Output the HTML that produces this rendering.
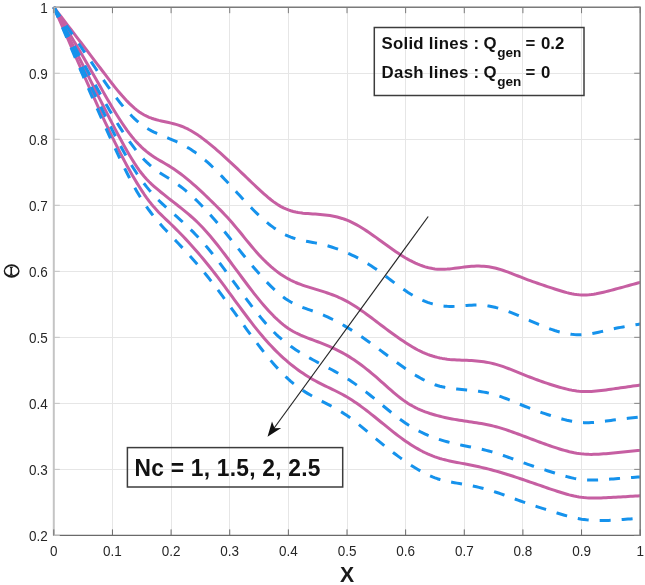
<!DOCTYPE html>
<html><head><meta charset="utf-8"><style>
html,body{margin:0;padding:0;background:#fff;}
body{width:645px;height:585px;overflow:hidden;}
svg{display:block;}
text{filter:grayscale(1);}
</style></head><body>
<svg width="645" height="585" viewBox="0 0 645 585">
<rect width="645" height="585" fill="#fff"/>
<g stroke="#e6e6e6" stroke-width="1" shape-rendering="crispEdges"><line x1="112.44" y1="7.20" x2="112.44" y2="535.40"/><line x1="171.08" y1="7.20" x2="171.08" y2="535.40"/><line x1="229.72" y1="7.20" x2="229.72" y2="535.40"/><line x1="288.36" y1="7.20" x2="288.36" y2="535.40"/><line x1="347.00" y1="7.20" x2="347.00" y2="535.40"/><line x1="405.64" y1="7.20" x2="405.64" y2="535.40"/><line x1="464.28" y1="7.20" x2="464.28" y2="535.40"/><line x1="522.92" y1="7.20" x2="522.92" y2="535.40"/><line x1="581.56" y1="7.20" x2="581.56" y2="535.40"/><line x1="53.80" y1="469.37" x2="640.20" y2="469.37"/><line x1="53.80" y1="403.35" x2="640.20" y2="403.35"/><line x1="53.80" y1="337.32" x2="640.20" y2="337.32"/><line x1="53.80" y1="271.30" x2="640.20" y2="271.30"/><line x1="53.80" y1="205.27" x2="640.20" y2="205.27"/><line x1="53.80" y1="139.25" x2="640.20" y2="139.25"/><line x1="53.80" y1="73.23" x2="640.20" y2="73.23"/></g>
<g fill="none" stroke-linejoin="round">
<path d="M53.80,7.20 L56.24,10.38 L58.69,13.56 L61.13,16.74 L63.57,19.92 L66.02,23.10 L68.46,26.29 L70.90,29.48 L73.35,32.67 L75.79,35.87 L78.23,39.07 L80.68,42.27 L83.12,45.48 L85.56,48.70 L88.01,51.92 L90.45,55.13 L92.89,58.36 L95.34,61.58 L97.78,64.80 L100.22,68.02 L102.67,71.24 L105.11,74.45 L107.55,77.66 L110.00,80.84 L112.44,83.98 L114.88,87.06 L117.33,90.08 L119.77,93.00 L122.21,95.84 L124.66,98.56 L127.10,101.16 L129.54,103.63 L131.99,105.96 L134.43,108.12 L136.87,110.12 L139.32,111.94 L141.76,113.56 L144.20,114.98 L146.65,116.21 L149.09,117.28 L151.53,118.21 L153.98,119.02 L156.42,119.73 L158.86,120.36 L161.31,120.93 L163.75,121.47 L166.19,122.00 L168.64,122.53 L171.08,123.10 L173.52,123.71 L175.97,124.39 L178.41,125.14 L180.85,125.99 L183.30,126.94 L185.74,128.01 L188.18,129.21 L190.63,130.52 L193.07,131.95 L195.51,133.49 L197.96,135.11 L200.40,136.82 L202.84,138.60 L205.29,140.45 L207.73,142.37 L210.17,144.33 L212.62,146.35 L215.06,148.41 L217.50,150.52 L219.95,152.66 L222.39,154.83 L224.83,157.04 L227.28,159.28 L229.72,161.54 L232.16,163.82 L234.61,166.12 L237.05,168.44 L239.49,170.77 L241.94,173.11 L244.38,175.45 L246.82,177.79 L249.27,180.13 L251.71,182.46 L254.15,184.77 L256.60,187.07 L259.04,189.35 L261.48,191.60 L263.93,193.81 L266.37,195.96 L268.81,198.03 L271.26,200.00 L273.70,201.86 L276.14,203.59 L278.59,205.17 L281.03,206.59 L283.47,207.86 L285.92,208.97 L288.36,209.93 L290.80,210.75 L293.25,211.44 L295.69,212.01 L298.13,212.48 L300.58,212.86 L303.02,213.17 L305.46,213.42 L307.91,213.62 L310.35,213.79 L312.79,213.95 L315.24,214.10 L317.68,214.26 L320.12,214.45 L322.57,214.67 L325.01,214.93 L327.45,215.24 L329.90,215.60 L332.34,216.02 L334.78,216.51 L337.23,217.07 L339.67,217.71 L342.11,218.44 L344.56,219.26 L347.00,220.19 L349.44,221.22 L351.89,222.36 L354.33,223.58 L356.77,224.90 L359.22,226.29 L361.66,227.75 L364.10,229.28 L366.55,230.87 L368.99,232.51 L371.43,234.19 L373.88,235.90 L376.32,237.65 L378.76,239.41 L381.21,241.19 L383.65,242.98 L386.09,244.76 L388.54,246.53 L390.98,248.28 L393.42,250.01 L395.87,251.70 L398.31,253.35 L400.75,254.95 L403.20,256.49 L405.64,257.97 L408.08,259.37 L410.53,260.70 L412.97,261.94 L415.41,263.10 L417.86,264.17 L420.30,265.15 L422.74,266.03 L425.19,266.82 L427.63,267.51 L430.07,268.09 L432.52,268.56 L434.96,268.92 L437.40,269.17 L439.85,269.30 L442.29,269.33 L444.73,269.26 L447.18,269.11 L449.62,268.90 L452.06,268.63 L454.51,268.33 L456.95,268.01 L459.39,267.69 L461.84,267.37 L464.28,267.07 L466.72,266.79 L469.17,266.55 L471.61,266.34 L474.05,266.20 L476.50,266.11 L478.94,266.09 L481.38,266.15 L483.83,266.29 L486.27,266.52 L488.71,266.83 L491.16,267.23 L493.60,267.71 L496.04,268.29 L498.49,268.95 L500.93,269.68 L503.37,270.47 L505.82,271.31 L508.26,272.20 L510.70,273.12 L513.15,274.07 L515.59,275.04 L518.03,276.01 L520.48,276.97 L522.92,277.93 L525.36,278.86 L527.81,279.78 L530.25,280.67 L532.69,281.55 L535.14,282.42 L537.58,283.27 L540.02,284.11 L542.47,284.93 L544.91,285.76 L547.35,286.57 L549.80,287.38 L552.24,288.18 L554.68,288.98 L557.13,289.77 L559.57,290.54 L562.01,291.28 L564.46,291.98 L566.90,292.63 L569.34,293.22 L571.79,293.74 L574.23,294.18 L576.67,294.54 L579.12,294.80 L581.56,294.95 L584.00,294.99 L586.45,294.92 L588.89,294.75 L591.33,294.50 L593.78,294.16 L596.22,293.76 L598.66,293.29 L601.11,292.77 L603.55,292.21 L605.99,291.61 L608.44,290.99 L610.88,290.35 L613.32,289.71 L615.77,289.06 L618.21,288.40 L620.65,287.74 L623.10,287.08 L625.54,286.41 L627.98,285.73 L630.43,285.06 L632.87,284.38 L635.31,283.70 L637.76,283.02 L640.20,282.34" stroke="#c65fa2" stroke-width="3"/>
<path d="M53.80,7.20 L56.24,11.31 L58.69,15.43 L61.13,19.55 L63.57,23.67 L66.02,27.79 L68.46,31.91 L70.90,36.04 L73.35,40.17 L75.79,44.30 L78.23,48.45 L80.68,52.60 L83.12,56.77 L85.56,60.96 L88.01,65.17 L90.45,69.40 L92.89,73.66 L95.34,77.95 L97.78,82.26 L100.22,86.57 L102.67,90.87 L105.11,95.14 L107.55,99.38 L110.00,103.57 L112.44,107.70 L114.88,111.74 L117.33,115.70 L119.77,119.55 L122.21,123.28 L124.66,126.87 L127.10,130.32 L129.54,133.61 L131.99,136.72 L134.43,139.65 L136.87,142.39 L139.32,144.94 L141.76,147.31 L144.20,149.52 L146.65,151.57 L149.09,153.48 L151.53,155.25 L153.98,156.89 L156.42,158.45 L158.86,159.93 L161.31,161.37 L163.75,162.78 L166.19,164.20 L168.64,165.66 L171.08,167.17 L173.52,168.76 L175.97,170.43 L178.41,172.17 L180.85,173.99 L183.30,175.88 L185.74,177.83 L188.18,179.84 L190.63,181.90 L193.07,184.02 L195.51,186.19 L197.96,188.40 L200.40,190.65 L202.84,192.94 L205.29,195.26 L207.73,197.60 L210.17,199.98 L212.62,202.37 L215.06,204.78 L217.50,207.20 L219.95,209.65 L222.39,212.14 L224.83,214.69 L227.28,217.30 L229.72,220.00 L232.16,222.79 L234.61,225.66 L237.05,228.59 L239.49,231.56 L241.94,234.56 L244.38,237.58 L246.82,240.59 L249.27,243.57 L251.71,246.51 L254.15,249.40 L256.60,252.21 L259.04,254.93 L261.48,257.54 L263.93,260.04 L266.37,262.44 L268.81,264.72 L271.26,266.89 L273.70,268.95 L276.14,270.90 L278.59,272.73 L281.03,274.46 L283.47,276.07 L285.92,277.56 L288.36,278.95 L290.80,280.23 L293.25,281.41 L295.69,282.50 L298.13,283.50 L300.58,284.44 L303.02,285.32 L305.46,286.14 L307.91,286.93 L310.35,287.69 L312.79,288.43 L315.24,289.16 L317.68,289.90 L320.12,290.64 L322.57,291.40 L325.01,292.19 L327.45,293.00 L329.90,293.86 L332.34,294.75 L334.78,295.70 L337.23,296.70 L339.67,297.76 L342.11,298.89 L344.56,300.10 L347.00,301.38 L349.44,302.75 L351.89,304.21 L354.33,305.73 L356.77,307.32 L359.22,308.96 L361.66,310.66 L364.10,312.40 L366.55,314.18 L368.99,315.99 L371.43,317.82 L373.88,319.66 L376.32,321.51 L378.76,323.37 L381.21,325.22 L383.65,327.06 L386.09,328.89 L388.54,330.71 L390.98,332.51 L393.42,334.29 L395.87,336.04 L398.31,337.77 L400.75,339.46 L403.20,341.11 L405.64,342.72 L408.08,344.29 L410.53,345.81 L412.97,347.27 L415.41,348.66 L417.86,349.97 L420.30,351.20 L422.74,352.34 L425.19,353.40 L427.63,354.36 L430.07,355.24 L432.52,356.03 L434.96,356.74 L437.40,357.37 L439.85,357.92 L442.29,358.40 L444.73,358.81 L447.18,359.15 L449.62,359.43 L452.06,359.65 L454.51,359.82 L456.95,359.96 L459.39,360.07 L461.84,360.17 L464.28,360.26 L466.72,360.37 L469.17,360.48 L471.61,360.62 L474.05,360.78 L476.50,360.98 L478.94,361.21 L481.38,361.49 L483.83,361.81 L486.27,362.19 L488.71,362.63 L491.16,363.13 L493.60,363.70 L496.04,364.35 L498.49,365.07 L500.93,365.85 L503.37,366.68 L505.82,367.56 L508.26,368.48 L510.70,369.42 L513.15,370.40 L515.59,371.38 L518.03,372.38 L520.48,373.38 L522.92,374.36 L525.36,375.34 L527.81,376.30 L530.25,377.25 L532.69,378.18 L535.14,379.09 L537.58,379.99 L540.02,380.87 L542.47,381.73 L544.91,382.58 L547.35,383.40 L549.80,384.21 L552.24,385.00 L554.68,385.77 L557.13,386.51 L559.57,387.22 L562.01,387.90 L564.46,388.54 L566.90,389.13 L569.34,389.67 L571.79,390.15 L574.23,390.56 L576.67,390.91 L579.12,391.19 L581.56,391.39 L584.00,391.50 L586.45,391.54 L588.89,391.51 L591.33,391.41 L593.78,391.26 L596.22,391.06 L598.66,390.81 L601.11,390.54 L603.55,390.23 L605.99,389.91 L608.44,389.57 L610.88,389.22 L613.32,388.87 L615.77,388.52 L618.21,388.18 L620.65,387.83 L623.10,387.48 L625.54,387.14 L627.98,386.79 L630.43,386.44 L632.87,386.10 L635.31,385.75 L637.76,385.41 L640.20,385.06" stroke="#c65fa2" stroke-width="3"/>
<path d="M53.80,7.20 L56.24,12.06 L58.69,16.91 L61.13,21.77 L63.57,26.63 L66.02,31.49 L68.46,36.35 L70.90,41.22 L73.35,46.09 L75.79,50.97 L78.23,55.85 L80.68,60.73 L83.12,65.63 L85.56,70.52 L88.01,75.43 L90.45,80.34 L92.89,85.25 L95.34,90.16 L97.78,95.06 L100.22,99.94 L102.67,104.80 L105.11,109.63 L107.55,114.44 L110.00,119.20 L112.44,123.93 L114.88,128.61 L117.33,133.23 L119.77,137.80 L122.21,142.30 L124.66,146.73 L127.10,151.05 L129.54,155.25 L131.99,159.30 L134.43,163.17 L136.87,166.85 L139.32,170.31 L141.76,173.53 L144.20,176.49 L146.65,179.21 L149.09,181.73 L151.53,184.09 L153.98,186.30 L156.42,188.42 L158.86,190.46 L161.31,192.47 L163.75,194.44 L166.19,196.40 L168.64,198.33 L171.08,200.24 L173.52,202.14 L175.97,204.05 L178.41,205.96 L180.85,207.89 L183.30,209.85 L185.74,211.85 L188.18,213.90 L190.63,216.01 L193.07,218.19 L195.51,220.45 L197.96,222.79 L200.40,225.24 L202.84,227.79 L205.29,230.45 L207.73,233.20 L210.17,236.04 L212.62,238.96 L215.06,241.95 L217.50,245.01 L219.95,248.12 L222.39,251.29 L224.83,254.49 L227.28,257.73 L229.72,261.00 L232.16,264.29 L234.61,267.59 L237.05,270.90 L239.49,274.20 L241.94,277.49 L244.38,280.77 L246.82,284.02 L249.27,287.24 L251.71,290.42 L254.15,293.55 L256.60,296.63 L259.04,299.65 L261.48,302.60 L263.93,305.48 L266.37,308.27 L268.81,310.97 L271.26,313.57 L273.70,316.07 L276.14,318.46 L278.59,320.73 L281.03,322.87 L283.47,324.88 L285.92,326.74 L288.36,328.46 L290.80,330.03 L293.25,331.45 L295.69,332.76 L298.13,333.96 L300.58,335.08 L303.02,336.12 L305.46,337.11 L307.91,338.06 L310.35,339.00 L312.79,339.92 L315.24,340.83 L317.68,341.75 L320.12,342.69 L322.57,343.64 L325.01,344.62 L327.45,345.63 L329.90,346.68 L332.34,347.76 L334.78,348.89 L337.23,350.07 L339.67,351.30 L342.11,352.59 L344.56,353.94 L347.00,355.36 L349.44,356.85 L351.89,358.41 L354.33,360.03 L356.77,361.72 L359.22,363.47 L361.66,365.28 L364.10,367.15 L366.55,369.07 L368.99,371.04 L371.43,373.06 L373.88,375.12 L376.32,377.23 L378.76,379.37 L381.21,381.54 L383.65,383.73 L386.09,385.91 L388.54,388.08 L390.98,390.23 L393.42,392.34 L395.87,394.39 L398.31,396.38 L400.75,398.29 L403.20,400.11 L405.64,401.82 L408.08,403.42 L410.53,404.91 L412.97,406.29 L415.41,407.57 L417.86,408.76 L420.30,409.86 L422.74,410.88 L425.19,411.83 L427.63,412.71 L430.07,413.53 L432.52,414.29 L434.96,415.00 L437.40,415.67 L439.85,416.30 L442.29,416.89 L444.73,417.45 L447.18,417.98 L449.62,418.47 L452.06,418.94 L454.51,419.39 L456.95,419.81 L459.39,420.22 L461.84,420.60 L464.28,420.98 L466.72,421.35 L469.17,421.71 L471.61,422.07 L474.05,422.43 L476.50,422.80 L478.94,423.19 L481.38,423.60 L483.83,424.03 L486.27,424.50 L488.71,424.99 L491.16,425.53 L493.60,426.11 L496.04,426.74 L498.49,427.42 L500.93,428.14 L503.37,428.89 L505.82,429.68 L508.26,430.51 L510.70,431.35 L513.15,432.22 L515.59,433.11 L518.03,434.01 L520.48,434.92 L522.92,435.83 L525.36,436.75 L527.81,437.67 L530.25,438.59 L532.69,439.51 L535.14,440.42 L537.58,441.33 L540.02,442.23 L542.47,443.12 L544.91,444.00 L547.35,444.87 L549.80,445.72 L552.24,446.56 L554.68,447.38 L557.13,448.19 L559.57,448.96 L562.01,449.70 L564.46,450.41 L566.90,451.07 L569.34,451.69 L571.79,452.25 L574.23,452.76 L576.67,453.20 L579.12,453.57 L581.56,453.88 L584.00,454.10 L586.45,454.26 L588.89,454.35 L591.33,454.38 L593.78,454.36 L596.22,454.29 L598.66,454.18 L601.11,454.03 L603.55,453.86 L605.99,453.66 L608.44,453.45 L610.88,453.23 L613.32,453.00 L615.77,452.77 L618.21,452.54 L620.65,452.31 L623.10,452.07 L625.54,451.83 L627.98,451.59 L630.43,451.35 L632.87,451.10 L635.31,450.86 L637.76,450.61 L640.20,450.37" stroke="#c65fa2" stroke-width="3"/>
<path d="M53.80,7.20 L56.24,12.71 L58.69,18.21 L61.13,23.72 L63.57,29.23 L66.02,34.74 L68.46,40.26 L70.90,45.78 L73.35,51.29 L75.79,56.81 L78.23,62.33 L80.68,67.85 L83.12,73.36 L85.56,78.87 L88.01,84.36 L90.45,89.84 L92.89,95.30 L95.34,100.73 L97.78,106.12 L100.22,111.48 L102.67,116.78 L105.11,122.03 L107.55,127.23 L110.00,132.35 L112.44,137.41 L114.88,142.39 L117.33,147.28 L119.77,152.09 L122.21,156.80 L124.66,161.42 L127.10,165.94 L129.54,170.35 L131.99,174.65 L134.43,178.83 L136.87,182.89 L139.32,186.83 L141.76,190.62 L144.20,194.28 L146.65,197.77 L149.09,201.08 L151.53,204.19 L153.98,207.11 L156.42,209.84 L158.86,212.43 L161.31,214.91 L163.75,217.30 L166.19,219.64 L168.64,221.96 L171.08,224.29 L173.52,226.65 L175.97,229.06 L178.41,231.52 L180.85,234.01 L183.30,236.55 L185.74,239.14 L188.18,241.77 L190.63,244.44 L193.07,247.16 L195.51,249.92 L197.96,252.74 L200.40,255.60 L202.84,258.50 L205.29,261.45 L207.73,264.46 L210.17,267.51 L212.62,270.61 L215.06,273.75 L217.50,276.95 L219.95,280.18 L222.39,283.44 L224.83,286.73 L227.28,290.04 L229.72,293.37 L232.16,296.70 L234.61,300.04 L237.05,303.37 L239.49,306.69 L241.94,309.99 L244.38,313.27 L246.82,316.52 L249.27,319.74 L251.71,322.92 L254.15,326.05 L256.60,329.12 L259.04,332.13 L261.48,335.08 L263.93,337.95 L266.37,340.75 L268.81,343.46 L271.26,346.09 L273.70,348.64 L276.14,351.11 L278.59,353.51 L281.03,355.82 L283.47,358.06 L285.92,360.23 L288.36,362.31 L290.80,364.33 L293.25,366.27 L295.69,368.14 L298.13,369.94 L300.58,371.68 L303.02,373.35 L305.46,374.96 L307.91,376.50 L310.35,377.99 L312.79,379.42 L315.24,380.79 L317.68,382.11 L320.12,383.38 L322.57,384.61 L325.01,385.81 L327.45,386.99 L329.90,388.16 L332.34,389.34 L334.78,390.52 L337.23,391.73 L339.67,392.97 L342.11,394.26 L344.56,395.60 L347.00,397.01 L349.44,398.49 L351.89,400.05 L354.33,401.66 L356.77,403.34 L359.22,405.07 L361.66,406.85 L364.10,408.67 L366.55,410.52 L368.99,412.42 L371.43,414.34 L373.88,416.28 L376.32,418.25 L378.76,420.23 L381.21,422.21 L383.65,424.20 L386.09,426.19 L388.54,428.16 L390.98,430.12 L393.42,432.06 L395.87,433.97 L398.31,435.84 L400.75,437.67 L403.20,439.45 L405.64,441.18 L408.08,442.86 L410.53,444.47 L412.97,446.01 L415.41,447.49 L417.86,448.91 L420.30,450.26 L422.74,451.54 L425.19,452.75 L427.63,453.89 L430.07,454.95 L432.52,455.94 L434.96,456.85 L437.40,457.68 L439.85,458.45 L442.29,459.15 L444.73,459.79 L447.18,460.38 L449.62,460.94 L452.06,461.46 L454.51,461.95 L456.95,462.43 L459.39,462.89 L461.84,463.35 L464.28,463.81 L466.72,464.28 L469.17,464.76 L471.61,465.26 L474.05,465.77 L476.50,466.29 L478.94,466.83 L481.38,467.38 L483.83,467.95 L486.27,468.54 L488.71,469.15 L491.16,469.78 L493.60,470.43 L496.04,471.10 L498.49,471.79 L500.93,472.50 L503.37,473.22 L505.82,473.97 L508.26,474.73 L510.70,475.50 L513.15,476.29 L515.59,477.09 L518.03,477.90 L520.48,478.72 L522.92,479.54 L525.36,480.38 L527.81,481.21 L530.25,482.06 L532.69,482.90 L535.14,483.75 L537.58,484.60 L540.02,485.45 L542.47,486.29 L544.91,487.14 L547.35,487.98 L549.80,488.81 L552.24,489.64 L554.68,490.45 L557.13,491.26 L559.57,492.04 L562.01,492.80 L564.46,493.53 L566.90,494.22 L569.34,494.88 L571.79,495.48 L574.23,496.03 L576.67,496.52 L579.12,496.95 L581.56,497.30 L584.00,497.59 L586.45,497.80 L588.89,497.95 L591.33,498.04 L593.78,498.08 L596.22,498.08 L598.66,498.04 L601.11,497.96 L603.55,497.86 L605.99,497.75 L608.44,497.61 L610.88,497.48 L613.32,497.34 L615.77,497.20 L618.21,497.06 L620.65,496.92 L623.10,496.78 L625.54,496.64 L627.98,496.49 L630.43,496.35 L632.87,496.21 L635.31,496.07 L637.76,495.93 L640.20,495.79" stroke="#c65fa2" stroke-width="3"/>
<path d="M53.80,7.20 L56.24,10.76 L58.69,14.32 L61.13,17.88 L63.57,21.45 L66.02,25.01 L68.46,28.58 L70.90,32.15 L73.35,35.73 L75.79,39.31 L78.23,42.89 L80.68,46.48 L83.12,50.07 L85.56,53.66 L88.01,57.25 L90.45,60.84 L92.89,64.43 L95.34,68.02 L97.78,71.61 L100.22,75.19 L102.67,78.76 L105.11,82.31 L107.55,85.82 L110.00,89.27 L112.44,92.66 L114.88,95.97 L117.33,99.19 L119.77,102.31 L122.21,105.33 L124.66,108.24 L127.10,111.03 L129.54,113.69 L131.99,116.21 L134.43,118.59 L136.87,120.82 L139.32,122.90 L141.76,124.80 L144.20,126.53 L146.65,128.11 L149.09,129.55 L151.53,130.87 L153.98,132.09 L156.42,133.22 L158.86,134.29 L161.31,135.31 L163.75,136.30 L166.19,137.28 L168.64,138.27 L171.08,139.28 L173.52,140.33 L175.97,141.43 L178.41,142.59 L180.85,143.80 L183.30,145.08 L185.74,146.42 L188.18,147.84 L190.63,149.34 L193.07,150.93 L195.51,152.60 L197.96,154.37 L200.40,156.23 L202.84,158.20 L205.29,160.27 L207.73,162.43 L210.17,164.67 L212.62,166.98 L215.06,169.37 L217.50,171.81 L219.95,174.31 L222.39,176.85 L224.83,179.43 L227.28,182.05 L229.72,184.68 L232.16,187.34 L234.61,190.00 L237.05,192.66 L239.49,195.32 L241.94,197.96 L244.38,200.59 L246.82,203.18 L249.27,205.73 L251.71,208.24 L254.15,210.70 L256.60,213.10 L259.04,215.43 L261.48,217.69 L263.93,219.86 L266.37,221.95 L268.81,223.96 L271.26,225.86 L273.70,227.67 L276.14,229.37 L278.59,230.97 L281.03,232.45 L283.47,233.81 L285.92,235.05 L288.36,236.16 L290.80,237.14 L293.25,238.00 L295.69,238.76 L298.13,239.43 L300.58,240.03 L303.02,240.57 L305.46,241.06 L307.91,241.52 L310.35,241.97 L312.79,242.42 L315.24,242.88 L317.68,243.37 L320.12,243.91 L322.57,244.49 L325.01,245.11 L327.45,245.78 L329.90,246.49 L332.34,247.25 L334.78,248.06 L337.23,248.91 L339.67,249.81 L342.11,250.76 L344.56,251.76 L347.00,252.80 L349.44,253.89 L351.89,255.03 L354.33,256.22 L356.77,257.46 L359.22,258.75 L361.66,260.10 L364.10,261.49 L366.55,262.95 L368.99,264.45 L371.43,266.02 L373.88,267.64 L376.32,269.31 L378.76,271.05 L381.21,272.83 L383.65,274.65 L386.09,276.49 L388.54,278.35 L390.98,280.21 L393.42,282.07 L395.87,283.91 L398.31,285.71 L400.75,287.48 L403.20,289.20 L405.64,290.86 L408.08,292.45 L410.53,293.96 L412.97,295.39 L415.41,296.75 L417.86,298.03 L420.30,299.23 L422.74,300.34 L425.19,301.36 L427.63,302.30 L430.07,303.15 L432.52,303.91 L434.96,304.57 L437.40,305.13 L439.85,305.60 L442.29,305.96 L444.73,306.22 L447.18,306.37 L449.62,306.43 L452.06,306.41 L454.51,306.33 L456.95,306.21 L459.39,306.04 L461.84,305.86 L464.28,305.66 L466.72,305.48 L469.17,305.31 L471.61,305.18 L474.05,305.10 L476.50,305.07 L478.94,305.12 L481.38,305.25 L483.83,305.44 L486.27,305.72 L488.71,306.07 L491.16,306.49 L493.60,307.00 L496.04,307.58 L498.49,308.23 L500.93,308.95 L503.37,309.73 L505.82,310.56 L508.26,311.45 L510.70,312.38 L513.15,313.35 L515.59,314.35 L518.03,315.39 L520.48,316.44 L522.92,317.51 L525.36,318.59 L527.81,319.67 L530.25,320.76 L532.69,321.84 L535.14,322.92 L537.58,323.97 L540.02,325.01 L542.47,326.02 L544.91,327.00 L547.35,327.94 L549.80,328.85 L552.24,329.70 L554.68,330.51 L557.13,331.26 L559.57,331.94 L562.01,332.57 L564.46,333.12 L566.90,333.60 L569.34,334.01 L571.79,334.33 L574.23,334.57 L576.67,334.72 L579.12,334.78 L581.56,334.74 L584.00,334.59 L586.45,334.36 L588.89,334.05 L591.33,333.66 L593.78,333.22 L596.22,332.73 L598.66,332.20 L601.11,331.64 L603.55,331.07 L605.99,330.49 L608.44,329.92 L610.88,329.36 L613.32,328.83 L615.77,328.32 L618.21,327.83 L620.65,327.36 L623.10,326.91 L625.54,326.47 L627.98,326.05 L630.43,325.64 L632.87,325.24 L635.31,324.84 L637.76,324.45 L640.20,324.06" stroke="#1592ec" stroke-width="3" stroke-dasharray="11 11"/>
<path d="M53.80,7.20 L56.24,11.79 L58.69,16.39 L61.13,20.99 L63.57,25.58 L66.02,30.18 L68.46,34.78 L70.90,39.38 L73.35,43.98 L75.79,48.58 L78.23,53.18 L80.68,57.78 L83.12,62.36 L85.56,66.93 L88.01,71.49 L90.45,76.03 L92.89,80.55 L95.34,85.04 L97.78,89.49 L100.22,93.90 L102.67,98.27 L105.11,102.59 L107.55,106.85 L110.00,111.05 L112.44,115.17 L114.88,119.23 L117.33,123.20 L119.77,127.08 L122.21,130.87 L124.66,134.56 L127.10,138.15 L129.54,141.63 L131.99,144.99 L134.43,148.22 L136.87,151.31 L139.32,154.26 L141.76,157.06 L144.20,159.69 L146.65,162.16 L149.09,164.44 L151.53,166.56 L153.98,168.53 L156.42,170.37 L158.86,172.10 L161.31,173.75 L163.75,175.32 L166.19,176.84 L168.64,178.34 L171.08,179.87 L173.52,181.48 L175.97,183.16 L178.41,184.92 L180.85,186.76 L183.30,188.67 L185.74,190.66 L188.18,192.73 L190.63,194.88 L193.07,197.10 L195.51,199.40 L197.96,201.77 L200.40,204.22 L202.84,206.74 L205.29,209.33 L207.73,211.99 L210.17,214.72 L212.62,217.50 L215.06,220.32 L217.50,223.20 L219.95,226.11 L222.39,229.05 L224.83,232.03 L227.28,235.02 L229.72,238.04 L232.16,241.07 L234.61,244.10 L237.05,247.13 L239.49,250.16 L241.94,253.18 L244.38,256.19 L246.82,259.17 L249.27,262.13 L251.71,265.05 L254.15,267.94 L256.60,270.78 L259.04,273.58 L261.48,276.32 L263.93,279.00 L266.37,281.61 L268.81,284.13 L271.26,286.57 L273.70,288.92 L276.14,291.16 L278.59,293.28 L281.03,295.29 L283.47,297.17 L285.92,298.92 L288.36,300.52 L290.80,301.97 L293.25,303.29 L295.69,304.49 L298.13,305.59 L300.58,306.61 L303.02,307.56 L305.46,308.46 L307.91,309.32 L310.35,310.18 L312.79,311.03 L315.24,311.90 L317.68,312.80 L320.12,313.75 L322.57,314.75 L325.01,315.81 L327.45,316.91 L329.90,318.06 L332.34,319.25 L334.78,320.49 L337.23,321.78 L339.67,323.11 L342.11,324.48 L344.56,325.89 L347.00,327.34 L349.44,328.83 L351.89,330.36 L354.33,331.93 L356.77,333.53 L359.22,335.16 L361.66,336.82 L364.10,338.51 L366.55,340.22 L368.99,341.96 L371.43,343.71 L373.88,345.49 L376.32,347.28 L378.76,349.08 L381.21,350.90 L383.65,352.72 L386.09,354.55 L388.54,356.37 L390.98,358.19 L393.42,359.99 L395.87,361.79 L398.31,363.56 L400.75,365.32 L403.20,367.05 L405.64,368.75 L408.08,370.42 L410.53,372.04 L412.97,373.62 L415.41,375.15 L417.86,376.62 L420.30,378.03 L422.74,379.36 L425.19,380.62 L427.63,381.80 L430.07,382.88 L432.52,383.87 L434.96,384.76 L437.40,385.54 L439.85,386.23 L442.29,386.82 L444.73,387.34 L447.18,387.78 L449.62,388.17 L452.06,388.50 L454.51,388.79 L456.95,389.05 L459.39,389.28 L461.84,389.51 L464.28,389.72 L466.72,389.95 L469.17,390.18 L471.61,390.43 L474.05,390.70 L476.50,391.00 L478.94,391.34 L481.38,391.71 L483.83,392.12 L486.27,392.59 L488.71,393.11 L491.16,393.69 L493.60,394.34 L496.04,395.06 L498.49,395.84 L500.93,396.68 L503.37,397.57 L505.82,398.49 L508.26,399.46 L510.70,400.45 L513.15,401.45 L515.59,402.47 L518.03,403.49 L520.48,404.50 L522.92,405.51 L525.36,406.49 L527.81,407.45 L530.25,408.40 L532.69,409.32 L535.14,410.23 L537.58,411.11 L540.02,411.98 L542.47,412.83 L544.91,413.67 L547.35,414.48 L549.80,415.28 L552.24,416.07 L554.68,416.83 L557.13,417.58 L559.57,418.29 L562.01,418.98 L564.46,419.62 L566.90,420.22 L569.34,420.76 L571.79,421.25 L574.23,421.68 L576.67,422.03 L579.12,422.31 L581.56,422.51 L584.00,422.63 L586.45,422.66 L588.89,422.63 L591.33,422.53 L593.78,422.38 L596.22,422.18 L598.66,421.94 L601.11,421.67 L603.55,421.37 L605.99,421.06 L608.44,420.74 L610.88,420.42 L613.32,420.11 L615.77,419.80 L618.21,419.51 L620.65,419.21 L623.10,418.92 L625.54,418.64 L627.98,418.36 L630.43,418.08 L632.87,417.81 L635.31,417.54 L637.76,417.27 L640.20,417.00" stroke="#1592ec" stroke-width="3" stroke-dasharray="11 11"/>
<path d="M53.80,7.20 L56.24,12.39 L58.69,17.59 L61.13,22.79 L63.57,27.98 L66.02,33.18 L68.46,38.38 L70.90,43.58 L73.35,48.79 L75.79,53.99 L78.23,59.20 L80.68,64.40 L83.12,69.60 L85.56,74.80 L88.01,79.99 L90.45,85.17 L92.89,90.33 L95.34,95.47 L97.78,100.58 L100.22,105.66 L102.67,110.70 L105.11,115.69 L107.55,120.64 L110.00,125.53 L112.44,130.36 L114.88,135.12 L117.33,139.82 L119.77,144.43 L122.21,148.96 L124.66,153.39 L127.10,157.70 L129.54,161.88 L131.99,165.92 L134.43,169.82 L136.87,173.55 L139.32,177.12 L141.76,180.53 L144.20,183.79 L146.65,186.90 L149.09,189.86 L151.53,192.69 L153.98,195.40 L156.42,197.98 L158.86,200.45 L161.31,202.83 L163.75,205.11 L166.19,207.33 L168.64,209.50 L171.08,211.65 L173.52,213.81 L175.97,215.97 L178.41,218.14 L180.85,220.34 L183.30,222.57 L185.74,224.84 L188.18,227.15 L190.63,229.52 L193.07,231.94 L195.51,234.43 L197.96,236.99 L200.40,239.63 L202.84,242.36 L205.29,245.17 L207.73,248.06 L210.17,251.01 L212.62,254.03 L215.06,257.11 L217.50,260.24 L219.95,263.42 L222.39,266.64 L224.83,269.90 L227.28,273.18 L229.72,276.49 L232.16,279.81 L234.61,283.15 L237.05,286.48 L239.49,289.81 L241.94,293.13 L244.38,296.43 L246.82,299.70 L249.27,302.94 L251.71,306.14 L254.15,309.28 L256.60,312.38 L259.04,315.41 L261.48,318.37 L263.93,321.26 L266.37,324.06 L268.81,326.77 L271.26,329.39 L273.70,331.89 L276.14,334.29 L278.59,336.57 L281.03,338.72 L283.47,340.76 L285.92,342.70 L288.36,344.54 L290.80,346.32 L293.25,348.02 L295.69,349.65 L298.13,351.23 L300.58,352.75 L303.02,354.23 L305.46,355.66 L307.91,357.05 L310.35,358.41 L312.79,359.74 L315.24,361.05 L317.68,362.34 L320.12,363.62 L322.57,364.89 L325.01,366.16 L327.45,367.44 L329.90,368.72 L332.34,370.03 L334.78,371.35 L337.23,372.70 L339.67,374.09 L342.11,375.51 L344.56,376.98 L347.00,378.50 L349.44,380.07 L351.89,381.70 L354.33,383.37 L356.77,385.10 L359.22,386.86 L361.66,388.67 L364.10,390.51 L366.55,392.39 L368.99,394.30 L371.43,396.24 L373.88,398.20 L376.32,400.19 L378.76,402.19 L381.21,404.21 L383.65,406.23 L386.09,408.24 L388.54,410.24 L390.98,412.22 L393.42,414.17 L395.87,416.09 L398.31,417.95 L400.75,419.77 L403.20,421.52 L405.64,423.20 L408.08,424.81 L410.53,426.34 L412.97,427.80 L415.41,429.19 L417.86,430.50 L420.30,431.75 L422.74,432.94 L425.19,434.06 L427.63,435.13 L430.07,436.13 L432.52,437.08 L434.96,437.98 L437.40,438.82 L439.85,439.62 L442.29,440.37 L444.73,441.08 L447.18,441.75 L449.62,442.39 L452.06,443.00 L454.51,443.58 L456.95,444.14 L459.39,444.68 L461.84,445.20 L464.28,445.71 L466.72,446.21 L469.17,446.70 L471.61,447.19 L474.05,447.69 L476.50,448.20 L478.94,448.71 L481.38,449.25 L483.83,449.81 L486.27,450.39 L488.71,451.00 L491.16,451.65 L493.60,452.34 L496.04,453.08 L498.49,453.85 L500.93,454.65 L503.37,455.49 L505.82,456.35 L508.26,457.22 L510.70,458.11 L513.15,459.01 L515.59,459.91 L518.03,460.82 L520.48,461.71 L522.92,462.59 L525.36,463.45 L527.81,464.30 L530.25,465.14 L532.69,465.96 L535.14,466.77 L537.58,467.57 L540.02,468.36 L542.47,469.15 L544.91,469.93 L547.35,470.70 L549.80,471.47 L552.24,472.25 L554.68,473.02 L557.13,473.78 L559.57,474.53 L562.01,475.26 L564.46,475.96 L566.90,476.63 L569.34,477.26 L571.79,477.84 L574.23,478.37 L576.67,478.84 L579.12,479.23 L581.56,479.56 L584.00,479.80 L586.45,479.97 L588.89,480.07 L591.33,480.11 L593.78,480.09 L596.22,480.03 L598.66,479.93 L601.11,479.80 L603.55,479.64 L605.99,479.46 L608.44,479.28 L610.88,479.08 L613.32,478.89 L615.77,478.70 L618.21,478.52 L620.65,478.33 L623.10,478.15 L625.54,477.97 L627.98,477.79 L630.43,477.61 L632.87,477.43 L635.31,477.25 L637.76,477.07 L640.20,476.90" stroke="#1592ec" stroke-width="3" stroke-dasharray="11 11"/>
<path d="M53.80,7.20 L56.24,12.94 L58.69,18.68 L61.13,24.42 L63.57,30.16 L66.02,35.90 L68.46,41.64 L70.90,47.38 L73.35,53.12 L75.79,58.85 L78.23,64.58 L80.68,70.31 L83.12,76.02 L85.56,81.73 L88.01,87.42 L90.45,93.09 L92.89,98.74 L95.34,104.36 L97.78,109.96 L100.22,115.51 L102.67,121.04 L105.11,126.52 L107.55,131.96 L110.00,137.34 L112.44,142.68 L114.88,147.96 L117.33,153.17 L119.77,158.31 L122.21,163.37 L124.66,168.33 L127.10,173.21 L129.54,177.97 L131.99,182.61 L134.43,187.11 L136.87,191.44 L139.32,195.59 L141.76,199.54 L144.20,203.30 L146.65,206.87 L149.09,210.27 L151.53,213.51 L153.98,216.61 L156.42,219.59 L158.86,222.46 L161.31,225.23 L163.75,227.94 L166.19,230.58 L168.64,233.19 L171.08,235.78 L173.52,238.36 L175.97,240.94 L178.41,243.52 L180.85,246.12 L183.30,248.73 L185.74,251.36 L188.18,254.01 L190.63,256.70 L193.07,259.42 L195.51,262.18 L197.96,264.99 L200.40,267.85 L202.84,270.76 L205.29,273.74 L207.73,276.77 L210.17,279.86 L212.62,283.00 L215.06,286.18 L217.50,289.40 L219.95,292.66 L222.39,295.95 L224.83,299.26 L227.28,302.60 L229.72,305.96 L232.16,309.32 L234.61,312.70 L237.05,316.08 L239.49,319.46 L241.94,322.83 L244.38,326.19 L246.82,329.54 L249.27,332.87 L251.71,336.17 L254.15,339.45 L256.60,342.69 L259.04,345.89 L261.48,349.04 L263.93,352.15 L266.37,355.20 L268.81,358.18 L271.26,361.10 L273.70,363.95 L276.14,366.71 L278.59,369.39 L281.03,371.98 L283.47,374.48 L285.92,376.87 L288.36,379.16 L290.80,381.33 L293.25,383.39 L295.69,385.33 L298.13,387.17 L300.58,388.91 L303.02,390.56 L305.46,392.13 L307.91,393.63 L310.35,395.06 L312.79,396.43 L315.24,397.76 L317.68,399.05 L320.12,400.32 L322.57,401.58 L325.01,402.84 L327.45,404.10 L329.90,405.38 L332.34,406.70 L334.78,408.05 L337.23,409.44 L339.67,410.89 L342.11,412.39 L344.56,413.96 L347.00,415.61 L349.44,417.33 L351.89,419.12 L354.33,420.98 L356.77,422.89 L359.22,424.85 L361.66,426.84 L364.10,428.87 L366.55,430.91 L368.99,432.97 L371.43,435.03 L373.88,437.08 L376.32,439.12 L378.76,441.14 L381.21,443.13 L383.65,445.10 L386.09,447.05 L388.54,448.97 L390.98,450.86 L393.42,452.72 L395.87,454.55 L398.31,456.36 L400.75,458.13 L403.20,459.87 L405.64,461.58 L408.08,463.25 L410.53,464.88 L412.97,466.47 L415.41,468.01 L417.86,469.49 L420.30,470.91 L422.74,472.27 L425.19,473.55 L427.63,474.76 L430.07,475.88 L432.52,476.92 L434.96,477.86 L437.40,478.70 L439.85,479.46 L442.29,480.14 L444.73,480.74 L447.18,481.29 L449.62,481.79 L452.06,482.26 L454.51,482.69 L456.95,483.11 L459.39,483.52 L461.84,483.93 L464.28,484.35 L466.72,484.80 L469.17,485.26 L471.61,485.76 L474.05,486.27 L476.50,486.82 L478.94,487.39 L481.38,487.99 L483.83,488.62 L486.27,489.27 L488.71,489.96 L491.16,490.69 L493.60,491.44 L496.04,492.23 L498.49,493.04 L500.93,493.89 L503.37,494.75 L505.82,495.63 L508.26,496.52 L510.70,497.42 L513.15,498.33 L515.59,499.23 L518.03,500.13 L520.48,501.02 L522.92,501.90 L525.36,502.76 L527.81,503.60 L530.25,504.43 L532.69,505.25 L535.14,506.05 L537.58,506.85 L540.02,507.63 L542.47,508.41 L544.91,509.19 L547.35,509.96 L549.80,510.72 L552.24,511.49 L554.68,512.26 L557.13,513.02 L559.57,513.77 L562.01,514.50 L564.46,515.21 L566.90,515.90 L569.34,516.56 L571.79,517.18 L574.23,517.75 L576.67,518.28 L579.12,518.75 L581.56,519.17 L584.00,519.52 L586.45,519.82 L588.89,520.06 L591.33,520.24 L593.78,520.38 L596.22,520.47 L598.66,520.52 L601.11,520.53 L603.55,520.51 L605.99,520.45 L608.44,520.38 L610.88,520.27 L613.32,520.15 L615.77,520.01 L618.21,519.86 L620.65,519.69 L623.10,519.51 L625.54,519.32 L627.98,519.11 L630.43,518.90 L632.87,518.69 L635.31,518.46 L637.76,518.24 L640.20,518.01" stroke="#1592ec" stroke-width="3" stroke-dasharray="11 11"/>
</g>
<g stroke-width="1"><line x1="53.30" y1="535.40" x2="640.80" y2="535.40" stroke="#6a6a6a" stroke-width="1.4"/><line x1="53.30" y1="7.20" x2="640.80" y2="7.20" stroke="#7a7a7a" stroke-width="1.4"/><line x1="53.80" y1="7.20" x2="53.80" y2="535.40" stroke="#c4c4c4" stroke-width="2"/><line x1="640.20" y1="7.20" x2="640.20" y2="535.40" stroke="#858585" stroke-width="1.6"/><line x1="53.80" y1="535.40" x2="53.80" y2="529.40" stroke="#6a6a6a"/><line x1="53.80" y1="7.20" x2="53.80" y2="13.20" stroke="#7a7a7a"/><line x1="112.44" y1="535.40" x2="112.44" y2="529.40" stroke="#6a6a6a"/><line x1="112.44" y1="7.20" x2="112.44" y2="13.20" stroke="#7a7a7a"/><line x1="171.08" y1="535.40" x2="171.08" y2="529.40" stroke="#6a6a6a"/><line x1="171.08" y1="7.20" x2="171.08" y2="13.20" stroke="#7a7a7a"/><line x1="229.72" y1="535.40" x2="229.72" y2="529.40" stroke="#6a6a6a"/><line x1="229.72" y1="7.20" x2="229.72" y2="13.20" stroke="#7a7a7a"/><line x1="288.36" y1="535.40" x2="288.36" y2="529.40" stroke="#6a6a6a"/><line x1="288.36" y1="7.20" x2="288.36" y2="13.20" stroke="#7a7a7a"/><line x1="347.00" y1="535.40" x2="347.00" y2="529.40" stroke="#6a6a6a"/><line x1="347.00" y1="7.20" x2="347.00" y2="13.20" stroke="#7a7a7a"/><line x1="405.64" y1="535.40" x2="405.64" y2="529.40" stroke="#6a6a6a"/><line x1="405.64" y1="7.20" x2="405.64" y2="13.20" stroke="#7a7a7a"/><line x1="464.28" y1="535.40" x2="464.28" y2="529.40" stroke="#6a6a6a"/><line x1="464.28" y1="7.20" x2="464.28" y2="13.20" stroke="#7a7a7a"/><line x1="522.92" y1="535.40" x2="522.92" y2="529.40" stroke="#6a6a6a"/><line x1="522.92" y1="7.20" x2="522.92" y2="13.20" stroke="#7a7a7a"/><line x1="581.56" y1="535.40" x2="581.56" y2="529.40" stroke="#6a6a6a"/><line x1="581.56" y1="7.20" x2="581.56" y2="13.20" stroke="#7a7a7a"/><line x1="640.20" y1="535.40" x2="640.20" y2="529.40" stroke="#6a6a6a"/><line x1="640.20" y1="7.20" x2="640.20" y2="13.20" stroke="#7a7a7a"/><line x1="53.80" y1="535.40" x2="59.80" y2="535.40" stroke="#c4c4c4"/><line x1="640.20" y1="535.40" x2="634.20" y2="535.40" stroke="#858585"/><line x1="53.80" y1="469.37" x2="59.80" y2="469.37" stroke="#c4c4c4"/><line x1="640.20" y1="469.37" x2="634.20" y2="469.37" stroke="#858585"/><line x1="53.80" y1="403.35" x2="59.80" y2="403.35" stroke="#c4c4c4"/><line x1="640.20" y1="403.35" x2="634.20" y2="403.35" stroke="#858585"/><line x1="53.80" y1="337.32" x2="59.80" y2="337.32" stroke="#c4c4c4"/><line x1="640.20" y1="337.32" x2="634.20" y2="337.32" stroke="#858585"/><line x1="53.80" y1="271.30" x2="59.80" y2="271.30" stroke="#c4c4c4"/><line x1="640.20" y1="271.30" x2="634.20" y2="271.30" stroke="#858585"/><line x1="53.80" y1="205.27" x2="59.80" y2="205.27" stroke="#c4c4c4"/><line x1="640.20" y1="205.27" x2="634.20" y2="205.27" stroke="#858585"/><line x1="53.80" y1="139.25" x2="59.80" y2="139.25" stroke="#c4c4c4"/><line x1="640.20" y1="139.25" x2="634.20" y2="139.25" stroke="#858585"/><line x1="53.80" y1="73.23" x2="59.80" y2="73.23" stroke="#c4c4c4"/><line x1="640.20" y1="73.23" x2="634.20" y2="73.23" stroke="#858585"/><line x1="53.80" y1="7.20" x2="59.80" y2="7.20" stroke="#c4c4c4"/><line x1="640.20" y1="7.20" x2="634.20" y2="7.20" stroke="#858585"/></g>
<g font-family='"Liberation Sans", sans-serif' font-size="13.5" fill="#262626"><text transform="translate(53.80,555.60) scale(1,1.13)" text-anchor="middle">0</text><text transform="translate(112.44,555.60) scale(1,1.13)" text-anchor="middle">0.1</text><text transform="translate(171.08,555.60) scale(1,1.13)" text-anchor="middle">0.2</text><text transform="translate(229.72,555.60) scale(1,1.13)" text-anchor="middle">0.3</text><text transform="translate(288.36,555.60) scale(1,1.13)" text-anchor="middle">0.4</text><text transform="translate(347.00,555.60) scale(1,1.13)" text-anchor="middle">0.5</text><text transform="translate(405.64,555.60) scale(1,1.13)" text-anchor="middle">0.6</text><text transform="translate(464.28,555.60) scale(1,1.13)" text-anchor="middle">0.7</text><text transform="translate(522.92,555.60) scale(1,1.13)" text-anchor="middle">0.8</text><text transform="translate(581.56,555.60) scale(1,1.13)" text-anchor="middle">0.9</text><text transform="translate(640.20,555.60) scale(1,1.13)" text-anchor="middle">1</text><text transform="translate(47.80,541.30) scale(1,1.13)" text-anchor="end">0.2</text><text transform="translate(47.80,475.27) scale(1,1.13)" text-anchor="end">0.3</text><text transform="translate(47.80,409.25) scale(1,1.13)" text-anchor="end">0.4</text><text transform="translate(47.80,343.22) scale(1,1.13)" text-anchor="end">0.5</text><text transform="translate(47.80,277.20) scale(1,1.13)" text-anchor="end">0.6</text><text transform="translate(47.80,211.17) scale(1,1.13)" text-anchor="end">0.7</text><text transform="translate(47.80,145.15) scale(1,1.13)" text-anchor="end">0.8</text><text transform="translate(47.80,79.13) scale(1,1.13)" text-anchor="end">0.9</text><text transform="translate(47.80,13.10) scale(1,1.13)" text-anchor="end">1</text></g>
<text x="347.00" y="582.00" text-anchor="middle" font-family='"Liberation Sans", sans-serif' font-weight="bold" font-size="21.2" fill="#1a1a1a">X</text>
<g fill="#1c1c1c"><path fill-rule="evenodd" d="M3.7,270.95 a7.95,6.75 0 1,0 15.9,0 a7.95,6.75 0 1,0 -15.9,0 Z M5.0,270.8 a6.6,4.45 0 1,0 13.2,0 a6.6,4.45 0 1,0 -13.2,0 Z"/>
<rect x="10.45" y="267.2" width="1.6" height="7.4"/><rect x="9.9" y="266.9" width="2.8" height="1.1"/><rect x="9.9" y="273.8" width="2.8" height="1.1"/></g>
<line x1="428.2" y1="216.5" x2="272" y2="431" stroke="#262626" stroke-width="1.2"/>
<path d="M267.5,436.8 L272,421.5 L274.6,428.3 L281.2,428 Z" fill="#111"/>
<rect x="374.3" y="27.5" width="209.7" height="68" fill="none" stroke="#3c3c3c" stroke-width="1.5"/>
<g font-family='"Liberation Sans", sans-serif' font-weight="bold" fill="#111" font-size="16.8">
<text x="381.4" y="48.9" letter-spacing="0.3">Solid lines :</text>
<text x="483.6" y="48.9">Q</text>
<text x="497.2" y="56.8" font-size="13.5">gen</text>
<text x="525.6" y="48.9">=</text>
<text x="540.9" y="48.9">0.2</text>
<text x="381.6" y="77.8" letter-spacing="0.3">Dash lines :</text>
<text x="483.6" y="77.8">Q</text>
<text x="497.2" y="85.8" font-size="13.5">gen</text>
<text x="525.6" y="77.8">=</text>
<text x="540.9" y="77.8">0</text>
</g>
<rect x="127.4" y="447.6" width="215.3" height="39.4" fill="none" stroke="#3c3c3c" stroke-width="1.5"/>
<text transform="translate(134.6,475.9) scale(1,1.08)" x="0" y="0" font-family='"Liberation Sans", sans-serif' font-weight="bold" font-size="22.8" letter-spacing="0.22" fill="#111">Nc = 1, 1.5, 2, 2.5</text>
</svg>
</body></html>
